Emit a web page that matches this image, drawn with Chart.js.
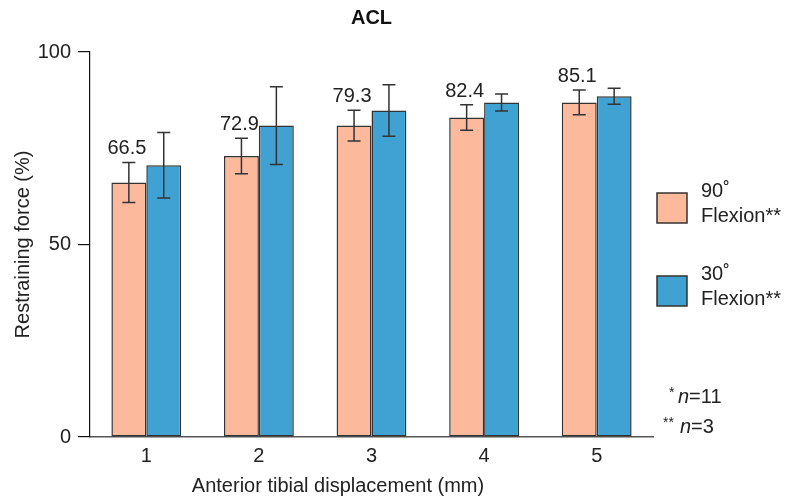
<!DOCTYPE html>
<html>
<head>
<meta charset="utf-8">
<script src="https://cdn.jsdelivr.net/npm/chart.js@4/dist/chart.umd.min.js"></script>
<style>
  body { margin: 0; background: #fff; }
  #wrap { width: 797px; height: 498px; }
</style>
</head>
<body>
<div id="wrap"><canvas id="myChart"></canvas></div>
<script>
// values
const categories = ['1', '2', '3', '4', '5'];
const flex90 = [66.1, 73.0, 80.9, 83.0, 86.9];
const flex90Err = [5.2, 4.6, 4.0, 3.3, 3.2];
const flex30 = [70.6, 80.9, 84.8, 86.9, 88.5];
const flex30Err = [8.5, 10.1, 6.7, 2.2, 2.1];
const valueLabels = ['66.5', '72.9', '79.3', '82.4', '85.1'];
const yTicks = [0, 50, 100];
const legendLines = [['90˚', 'Flexion**'], ['30˚', 'Flexion**']];

const FONT = '"Liberation Sans", Arial, Helvetica, sans-serif';
const TXT = '#222';
const orange = '#FDB99B';
const blue = '#3FA2D3';

// error bars, numbers, legend and notes
const extras = {
  id: 'extras',
  afterDatasetsDraw(chart) {
    const ctx = chart.ctx;
    const y = chart.scales.y;
    const errs = [flex90Err, flex30Err];
    ctx.save();
    ctx.strokeStyle = '#333';
    ctx.lineWidth = 1.5;
    chart.data.datasets.forEach((ds, i) => {
      const meta = chart.getDatasetMeta(i);
      meta.data.forEach((bar, j) => {
        const v = ds.data[j];
        const top = y.getPixelForValue(v + errs[i][j]);
        const bot = y.getPixelForValue(v - errs[i][j]);
        ctx.beginPath();
        ctx.moveTo(bar.x, top); ctx.lineTo(bar.x, bot);
        ctx.moveTo(bar.x - 6.5, top); ctx.lineTo(bar.x + 6.5, top);
        ctx.moveTo(bar.x - 6.5, bot); ctx.lineTo(bar.x + 6.5, bot);
        ctx.stroke();
      });
    });
    // value labels over the 90 deg bars
    ctx.fillStyle = TXT;
    ctx.font = '20px ' + FONT;
    ctx.textAlign = 'center';
    ctx.textBaseline = 'alphabetic';
    chart.getDatasetMeta(0).data.forEach((bar, j) => {
      const top = y.getPixelForValue(flex90[j] + flex90Err[j]);
      ctx.fillText(valueLabels[j], bar.x - 2, top - 8);
    });
    ctx.restore();
  },
  afterDraw(chart) {
    const ctx = chart.ctx;
    const area = chart.chartArea;
    ctx.save();
    ctx.fillStyle = TXT;
    ctx.font = '20px ' + FONT;
    ctx.textAlign = 'center';
    ctx.textBaseline = 'alphabetic';
    ctx.fillText('Anterior tibial displacement (mm)', 338, 492);

    // legend
    const colors = [orange, blue];
    const boxTops = [193, 276];
    ctx.textAlign = 'left';
    legendLines.forEach((lines, i) => {
      const bt = boxTops[i];
      ctx.fillStyle = colors[i];
      ctx.fillRect(657, bt, 30, 30);
      ctx.strokeStyle = '#333';
      ctx.lineWidth = 1.5;
      ctx.strokeRect(657, bt, 30, 30);
      ctx.fillStyle = TXT;
      ctx.fillText(lines[0], 701, bt + 4);
      ctx.fillText(lines[1], 701, bt + 29);
    });

    // sample size notes
    const note = (stars, starX, nX, rest, base) => {
      ctx.font = '14px ' + FONT;
      ctx.fillText(stars, starX, base - 6);
      ctx.font = 'italic 20px ' + FONT;
      ctx.fillText('n', nX, base);
      const w = ctx.measureText('n').width;
      ctx.font = '20px ' + FONT;
      ctx.fillText(rest, nX + w, base);
    };
    note('*', 669, 678, '=11', 403);
    note('**', 663, 680, '=3', 433);
    ctx.restore();
  }
};

const canvas = document.getElementById('myChart');
const chart = new Chart(canvas, {
  type: 'bar',
  data: {
    labels: categories,
    datasets: [{
      label: '90˚ Flexion**',
      data: flex90,
      backgroundColor: orange,
      borderColor: '#333',
      borderWidth: 1.5,
      borderSkipped: false
    }, {
      label: '30˚ Flexion**',
      data: flex30,
      backgroundColor: blue,
      borderColor: '#333',
      borderWidth: 1.5,
      borderSkipped: false
    }]
  },
  options: {
    responsive: true,
    maintainAspectRatio: false,
    animation: false,
    datasets: { bar: { categoryPercentage: 0.62, barPercentage: 1 } },
    layout: { padding: { left: 0, right: 144, top: 0, bottom: 0 } },
    plugins: {
      legend: { display: false },
      tooltip: { enabled: false },
      title: {
        display: true,
        text: 'ACL',
        fullSize: false,
        color: '#111',
        font: { family: FONT, size: 20, weight: 'bold' },
        padding: { top: 6.5, bottom: 21.5 }
      }
    },
    scales: {
      x: {
        grid: { display: true, drawOnChartArea: false, drawTicks: false },
        border: { display: true, color: '#555', width: 1.5 },
        ticks: { color: TXT, font: { family: FONT, size: 20 }, padding: 7 },
        afterFit: s => { s.height = 61; }
      },
      y: {
        min: 0,
        max: 100,
        afterBuildTicks: s => { s.ticks = yTicks.map(v => ({ value: v })); },
        grid: { drawOnChartArea: false, tickLength: 12, color: '#111', lineWidth: 1.2 },
        border: { display: true, color: '#111', width: 1.2 },
        ticks: { color: TXT, font: { family: FONT, size: 20 }, padding: 7 },
        title: {
          display: true,
          text: 'Restraining force (%)',
          color: TXT,
          font: { family: FONT, size: 20 },
          padding: { top: 11, bottom: 0 }
        },
        afterFit: s => { s.width = 90; }
      }
    }
  },
  plugins: [extras]
});
</script>
</body>
</html>
